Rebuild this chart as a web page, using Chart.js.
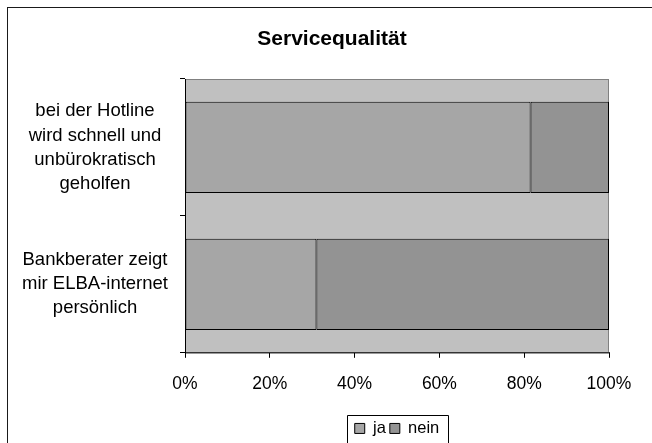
<!DOCTYPE html>
<html>
<head>
<meta charset="utf-8">
<script src="https://cdn.jsdelivr.net/npm/chart.js@4/dist/chart.umd.min.js"></script>
<style>
  html, body { margin: 0; padding: 0; background: #fff; }
  #wrap { width: 652px; height: 443px; }
</style>
</head>
<body>
<div id="wrap"><canvas id="c" width="652" height="443"></canvas></div>
<script>
// Survey answers per statement, in percent
const categories = [
  ['bei der Hotline', 'wird schnell und', 'unbürokratisch', 'geholfen'],
  ['Bankberater zeigt', 'mir ELBA-internet', 'persönlich']
];
const seriesNames = ['ja', 'nein'];
const jaValues = [81.5, 31];
const neinValues = [18.5, 69];
const xTicks = [0, 20, 40, 60, 80, 100];

const FONT = '"Liberation Sans", Arial, Helvetica, sans-serif';

// Grey plot area, outer frame and a box around the legend
const decor = {
  id: 'decor',
  afterLayout(chart) {
    const lg = chart.legend, ca = chart.chartArea, tb = chart.titleBlock;
    if (lg) {
      lg.left = ca.left; lg.right = ca.right; lg.width = ca.right - ca.left;
      lg.top += 3; lg.bottom += 3;
    }
    // the frame continues past the right edge, the title is centred in it
    if (tb) { tb.left = 7; tb.right = 657; tb.width = 650; }
  },
  beforeDraw(chart) {
    const { ctx, chartArea: a } = chart;
    ctx.save();
    ctx.fillStyle = '#fff';
    ctx.fillRect(0, 0, chart.width, chart.height);
    ctx.fillStyle = '#c0c0c0';
    ctx.fillRect(a.left, a.top, a.right - a.left, a.bottom - a.top);
    ctx.strokeStyle = '#808080';
    ctx.lineWidth = 1;
    ctx.strokeRect(a.left + 0.5, a.top + 0.5, a.right - a.left - 1, a.bottom - a.top);
    ctx.restore();
  },
  afterDraw(chart) {
    const { ctx } = chart;
    ctx.save();
    ctx.strokeStyle = '#1a1a1a';
    ctx.lineWidth = 1;
    ctx.strokeRect(7.5, 7.5, 800, 600);
    const hb = chart.legend && chart.legend.legendHitBoxes;
    if (hb && hb.length) {
      const l = Math.min(...hb.map(h => h.left)) - 8;
      const r = Math.max(...hb.map(h => h.left + h.width)) + 9;
      const t = Math.min(...hb.map(h => h.top)) - 5;
      ctx.strokeStyle = '#000';
      ctx.beginPath();
      ctx.moveTo(Math.round(l) + 0.5, chart.height + 2);
      ctx.lineTo(Math.round(l) + 0.5, Math.round(t) + 0.5);
      ctx.lineTo(Math.round(r) + 0.5, Math.round(t) + 0.5);
      ctx.lineTo(Math.round(r) + 0.5, chart.height + 2);
      ctx.stroke();
    }
    ctx.restore();
  }
};

new Chart(document.getElementById('c'), {
  type: 'bar',
  data: {
    labels: categories,
    datasets: [
      { label: seriesNames[0], data: jaValues, backgroundColor: '#a6a6a6', borderColor: '#000', borderWidth: 1, borderSkipped: false },
      { label: seriesNames[1], data: neinValues, backgroundColor: '#939393', borderColor: '#000', borderWidth: 1, borderSkipped: false }
    ]
  },
  options: {
    indexAxis: 'y',
    responsive: false,
    animation: false,
    devicePixelRatio: 1,
    categoryPercentage: 0.667,
    barPercentage: 1,
    layout: { padding: { top: 26.5, left: 7, right: 43, bottom: -0.7 } },
    scales: {
      x: {
        stacked: true,
        min: 0, max: 100,
        afterBuildTicks(scale) { scale.ticks = xTicks.map(v => ({ value: v })); },
        afterFit(scale) { scale.height = 60.4; },
        ticks: {
          color: '#000',
          font: { family: FONT, size: 17.5 },
          padding: 15.5,
          maxRotation: 0,
          callback: v => v + '%'
        },
        grid: { drawOnChartArea: false, drawTicks: true, tickLength: 5, color: '#000' },
        border: { display: true, color: '#333', width: 1 }
      },
      y: {
        stacked: true,
        afterFit(scale) { scale.width = 178; },
        ticks: {
          color: '#000',
          font: { family: FONT, size: 18.5, lineHeight: 1.3 },
          padding: 12,
          crossAlign: 'center',
          autoSkip: false
        },
        grid: { offset: true, drawOnChartArea: false, drawTicks: true, tickLength: 5, color: '#000' },
        border: { display: true, color: '#000', width: 1 }
      }
    },
    plugins: {
      title: {
        display: true,
        text: 'Servicequalität',
        color: '#000',
        font: { family: FONT, size: 21, weight: 'bold' },
        padding: { top: 0, bottom: 27.3 }
      },
      legend: {
        display: true,
        position: 'bottom',
        labels: {
          color: '#000',
          font: { family: FONT, size: 16.5 },
          boxWidth: 10,
          boxHeight: 10,
          padding: 4
        }
      },
      tooltip: { enabled: false }
    }
  },
  plugins: [decor]
});
</script>
</body>
</html>
